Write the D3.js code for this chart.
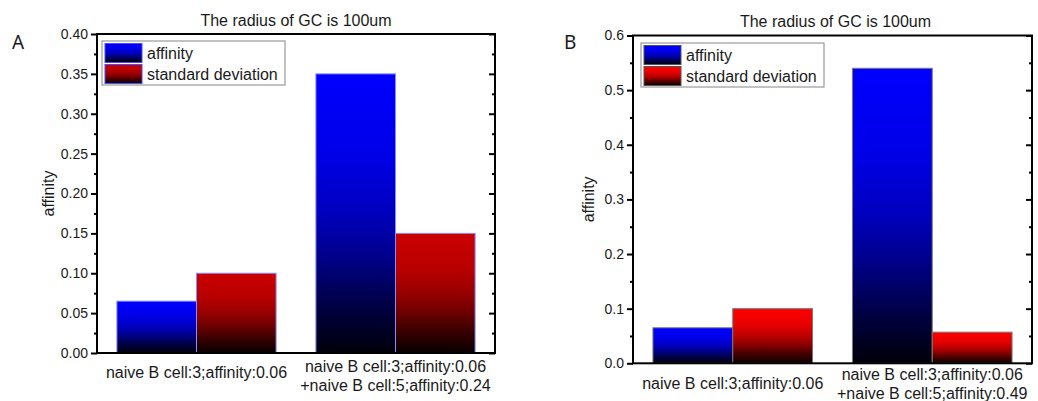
<!DOCTYPE html>
<html>
<head>
<meta charset="utf-8">
<script src="https://cdn.jsdelivr.net/npm/d3@7"></script>
<style>
  html, body { margin: 0; padding: 0; background: #fff; }
  svg { display: block; }
  text { font-family: "Liberation Sans", Arial, sans-serif; fill: #1a1a1a; }
</style>
</head>
<body>
<svg id="chart" width="1038" height="401"></svg>
<script>
// Group labels (one entry per line)
const categoriesA = [
  ["naive B cell:3;affinity:0.06"],
  ["naive B cell:3;affinity:0.06", "+naive B cell:5;affinity:0.24"]
];
const categoriesB = [
  ["naive B cell:3;affinity:0.06"],
  ["naive B cell:3;affinity:0.06", "+naive B cell:5;affinity:0.49"]
];

// Series values
const affinityA = [0.065, 0.35];
const deviationA = [0.10, 0.15];
const affinityB = [0.065, 0.54];
const deviationB = [0.10, 0.057];

// Axis ticks
const ticksA = [0, 0.05, 0.10, 0.15, 0.20, 0.25, 0.30, 0.35, 0.40];
const ticksB = [0, 0.1, 0.2, 0.3, 0.4, 0.5, 0.6];

const seriesNames = ["affinity", "standard deviation"];
const titleText = "The radius of GC is 100um";

const svg = d3.select("#chart");
const defs = svg.append("defs");

// Vertical fade from the series colour at the top to black at the bottom
function makeGradient(id, color) {
  const c = d3.rgb(color);
  const g = defs.append("linearGradient")
    .attr("id", id)
    .attr("x1", 0).attr("y1", 0).attr("x2", 0).attr("y2", 1);
  const stops = [[0, 1.0], [0.3, 0.9], [0.5, 0.74], [0.65, 0.55], [0.82, 0.28], [1, 0.04]];
  stops.forEach(([o, k]) => {
    g.append("stop")
      .attr("offset", o)
      .attr("stop-color", d3.rgb(c.r * k, c.g * k, c.b * k).formatHex());
  });
  return `url(#${id})`;
}

function drawPanel(cfg) {
  const { left, right, top, bottom } = cfg.box;
  const g = svg.append("g");

  const x = d3.scaleBand()
    .domain(d3.range(cfg.categories.length))
    .range([left, right])
    .paddingInner(0.2)
    .paddingOuter(0.1);
  const xs = d3.scaleBand()
    .domain([0, 1])
    .range([0, x.bandwidth()]);
  const y = d3.scaleLinear()
    .domain([0, cfg.ymax])
    .range([bottom, top]);

  const fills = [
    makeGradient(cfg.id + "-aff", cfg.colors[0]),
    makeGradient(cfg.id + "-sd", cfg.colors[1])
  ];
  const series = [cfg.affinity, cfg.deviation];

  // Bars
  series.forEach((vals, si) => {
    g.selectAll(null)
      .data(vals)
      .enter()
      .append("rect")
      .attr("x", (d, i) => x(i) + xs(si))
      .attr("y", d => y(d))
      .attr("width", xs.bandwidth())
      .attr("height", d => y(0) - y(d))
      .attr("fill", fills[si])
      .attr("stroke", cfg.barStroke)
      .attr("stroke-width", 1);
  });

  // Minor ticks halfway between major ticks
  const minor = cfg.ticks.slice(1).map((t, i) => (t + cfg.ticks[i]) / 2);

  // Left axis: ticks pointing outward
  const leftAxis = d3.axisLeft(y).tickValues(cfg.ticks)
    .tickFormat(d3.format(cfg.fmt)).tickSize(6).tickPadding(3);
  const la = g.append("g").attr("transform", `translate(${left},0)`).call(leftAxis);
  la.select(".domain").remove();
  la.selectAll("line").attr("stroke", "#000").attr("stroke-width", 2);
  la.selectAll("text").attr("font-size", 14).attr("fill", "#1a1a1a")
    .style("font-family", "'Liberation Sans', Arial, sans-serif");
  const lm = g.append("g").attr("transform", `translate(${left},0)`)
    .call(d3.axisLeft(y).tickValues(minor).tickSize(3).tickFormat(""));
  lm.select(".domain").remove();
  lm.selectAll("line").attr("stroke", "#000").attr("stroke-width", 2);

  // Right axis: ticks pointing inward
  const ra = g.append("g").attr("transform", `translate(${right},0)`)
    .call(d3.axisLeft(y).tickValues(cfg.ticks).tickSize(6).tickFormat(""));
  ra.select(".domain").remove();
  ra.selectAll("line").attr("stroke", "#000").attr("stroke-width", 2);
  const rm = g.append("g").attr("transform", `translate(${right},0)`)
    .call(d3.axisLeft(y).tickValues(minor).tickSize(3).tickFormat(""));
  rm.select(".domain").remove();
  rm.selectAll("line").attr("stroke", "#000").attr("stroke-width", 2);

  // Frame
  g.append("rect")
    .attr("x", left).attr("y", top)
    .attr("width", right - left).attr("height", bottom - top)
    .attr("fill", "none").attr("stroke", "#000").attr("stroke-width", 2);

  // Category labels
  cfg.categories.forEach((lines, i) => {
    const cx = x(i) + x.bandwidth() / 2;
    const base = lines.length === 1 ? cfg.labelSingle : cfg.labelDouble;
    lines.forEach((ln, k) => {
      g.append("text")
        .attr("x", cx)
        .attr("y", bottom + base + k * 19)
        .attr("text-anchor", "middle")
        .attr("font-size", 16)
        .text(ln);
    });
  });

  // Title
  g.append("text")
    .attr("x", (left + right) / 2 + cfg.titleShift)
    .attr("y", cfg.titleY)
    .attr("text-anchor", "middle")
    .attr("font-size", 16)
    .text(titleText);

  // Y axis title
  g.append("text")
    .attr("transform", `translate(${cfg.yTitleX},${(top + bottom) / 2}) rotate(-90)`)
    .attr("text-anchor", "middle")
    .attr("font-size", 16)
    .text("affinity");

  // Panel letter
  g.append("text")
    .attr("x", cfg.letterX)
    .attr("y", 49)
    .attr("font-size", 19)
    .style("font-family", "'Noto Sans', 'Open Sans', sans-serif")
    .text(cfg.letter);

  // Legend
  const lg = g.append("g").attr("transform", `translate(${cfg.legend.x},${cfg.legend.y})`);
  lg.append("rect")
    .attr("width", cfg.legend.w).attr("height", 44)
    .attr("fill", "#fff").attr("stroke", "#9a9a9a").attr("stroke-width", 1.2);
  seriesNames.forEach((name, si) => {
    lg.append("rect")
      .attr("x", 3).attr("y", 2.5 + si * 21)
      .attr("width", 37).attr("height", 19)
      .attr("fill", fills[si])
      .attr("stroke", cfg.swatchStroke).attr("stroke-width", 1);
    lg.append("text")
      .attr("x", 45).attr("y", 17.5 + si * 21)
      .attr("font-size", 16)
      .text(name);
  });
}

drawPanel({
  id: "pa",
  letter: "A",
  letterX: 12,
  box: { left: 97, right: 495, top: 34, bottom: 353 },
  ymax: 0.40,
  ticks: ticksA,
  fmt: ".2f",
  categories: categoriesA,
  affinity: affinityA,
  deviation: deviationA,
  colors: ["#0000ff", "#cc0000"],
  barStroke: "#8a8aff",
  swatchStroke: "#4a4aff",
  labelSingle: 25,
  labelDouble: 19,
  titleY: 26,
  titleShift: 0,
  yTitleX: 54,
  legend: { x: 102, y: 41, w: 183 }
});

drawPanel({
  id: "pb",
  letter: "B",
  letterX: 564,
  box: { left: 633, right: 1032, top: 35.5, bottom: 363.3 },
  ymax: 0.6,
  ticks: ticksB,
  fmt: ".1f",
  categories: categoriesB,
  affinity: affinityB,
  deviation: deviationB,
  colors: ["#0000ff", "#ff0000"],
  barStroke: "#7a7a7a",
  swatchStroke: "#555",
  labelSingle: 26,
  labelDouble: 17,
  titleY: 27,
  titleShift: 3,
  yTitleX: 594,
  legend: { x: 641, y: 43, w: 183 }
});
</script>
</body>
</html>
